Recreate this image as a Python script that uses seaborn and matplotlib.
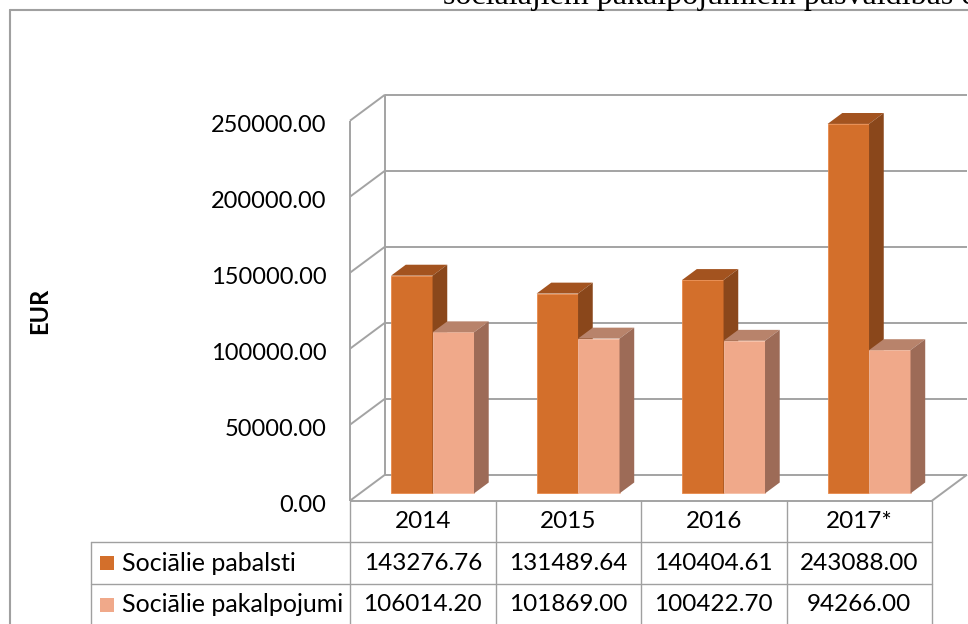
import matplotlib

matplotlib.use("Agg")
import matplotlib.pyplot as plt
import matplotlib.transforms as mtransforms
import pandas as pd
import seaborn as sns
from matplotlib.lines import Line2D
from matplotlib.patches import Polygon

years = ["2014", "2015", "2016", "2017*"]
pabalsti = [143276.76, 131489.64, 140404.61, 243088.00]
pakalpojumi = [106014.20, 101869.00, 100422.70, 94266.00]
series_names = ["Sociālie pabalsti", "Sociālie pakalpojumi"]
y_ticks = [0, 50000, 100000, 150000, 200000, 250000]
title_text = "sociālajiem pakalpojumiem pašvaldības c"

front_colors = ["#D36F2B", "#F0A98A"]
top_colors = ["#A3531F", "#B8836B"]
side_colors = ["#8A471B", "#9D6B57"]
edge_colors = ["#E8894A", "#F6BFA6"]
grid_color = "#A3A3A3"

W, H = 968, 624
sns.set_theme(style="white")
plt.rcParams["font.family"] = ["Lato", "DejaVu Sans"]


def fx(px):
    return px / W


def fy(py):
    return 1 - py / H


def main():
    fig = plt.figure(figsize=(W / 100, H / 100), dpi=100)

    # plot area: front plane of the 3d box, in pixels 350..932 x 120.7..500.7
    ax = fig.add_axes([fx(350), fy(500.7), fx(932) - fx(350), fy(120.7) - fy(500.7)])
    ymax = y_ticks[-1]
    # depth of the 3d box in data units (35px right, 26px up)
    dx = 35 / (582 / len(years))
    dy = 26 * ymax / 380
    f0, f1 = 0.28, 0.70

    df = pd.DataFrame(
        {
            "year": years * 2,
            "value": pabalsti + pakalpojumi,
            "series": [series_names[0]] * 4 + [series_names[1]] * 4,
        }
    )
    sns.barplot(
        data=df,
        x="year",
        y="value",
        hue="series",
        order=years,
        hue_order=series_names,
        palette=front_colors,
        saturation=1,
        width=0.57,
        gap=0,
        errorbar=None,
        legend=False,
        ax=ax,
    )

    # turn the flat bars into 3d columns
    bars = sorted(ax.patches, key=lambda p: p.get_x())
    shift = mtransforms.Affine2D().translate(f0 * dx, f0 * dy) + ax.transData
    for rank, bar in enumerate(bars):
        k = rank % 2
        x0, w, h = bar.get_x(), bar.get_width(), bar.get_height()
        z = 3 + rank * 0.1
        bar.set_transform(shift)
        bar.set_clip_on(False)
        bar.set_edgecolor(edge_colors[k])
        bar.set_linewidth(0.6)
        bar.set_zorder(z)
        top = [
            (x0 + f0 * dx, h + f0 * dy),
            (x0 + w + f0 * dx, h + f0 * dy),
            (x0 + w + f1 * dx, h + f1 * dy),
            (x0 + f1 * dx, h + f1 * dy),
        ]
        side = [
            (x0 + w + f0 * dx, f0 * dy),
            (x0 + w + f1 * dx, f1 * dy),
            (x0 + w + f1 * dx, h + f1 * dy),
            (x0 + w + f0 * dx, h + f0 * dy),
        ]
        ax.add_patch(Polygon(top, closed=True, fc=top_colors[k], ec="none", clip_on=False, zorder=z))
        ax.add_patch(Polygon(side, closed=True, fc=side_colors[k], ec="none", clip_on=False, zorder=z))

    # back wall, floor and gridlines
    left, right = -0.5, len(years) - 0.5
    line_kw = dict(color=grid_color, lw=1.4, clip_on=False, zorder=1, solid_capstyle="butt")
    for t in y_ticks:
        ax.plot([left, left + dx], [t, t + dy], **line_kw)
        ax.plot([left + dx, right + dx], [t + dy, t + dy], **line_kw)
    ax.plot([left, left], [0, ymax], **line_kw)
    ax.plot([left + dx, left + dx], [dy, ymax + dy], **line_kw)
    ax.plot([left, right], [0, 0], **line_kw)
    ax.plot([right, right + dx], [0, dy], **line_kw)

    ax.set_xlim(left, right)
    ax.set_ylim(0, ymax)
    sns.despine(ax=ax, left=True, bottom=True)
    ax.grid(False)
    ax.set_facecolor("none")
    ax.set_xticks([])
    ax.set_xlabel("")
    ax.set_yticks(y_ticks)
    ax.set_yticklabels([f"{t:.2f}" for t in y_ticks])
    ax.tick_params(axis="y", length=0, pad=17, labelsize=17, labelcolor="black")
    # labels sit a little below their gridline in the reference
    nudge = mtransforms.ScaledTranslation(0, -2 / 72, fig.dpi_scale_trans)
    for lab in ax.get_yticklabels():
        lab.set_transform(lab.get_transform() + nudge)
    ax.set_ylabel("EUR", fontsize=17, fontweight="bold", color="black")
    ax.yaxis.set_label_coords(-0.513, 0.5)

    # data table under the plot
    label_w = (350 - 91) / (582 / len(years))
    tax = fig.add_axes([fx(91), fy(625.7), fx(932) - fx(91), fy(500.7) - fy(625.7)])
    tax.set_xlim(left - label_w, right)
    tax.set_ylim(3, 0)
    tax.axis("off")
    tkw = dict(color="#A0A0A0", lw=1.0, clip_on=False)
    for i in range(len(years) + 1):
        tax.plot([left + i, left + i], [0, 3], **tkw)
    tax.plot([left - label_w, left - label_w], [1, 3], **tkw)
    for r in (1, 2, 3):
        tax.plot([left - label_w, right], [r, r], **tkw)

    text_kw = dict(fontsize=17.5, ha="center", va="center", color="black")
    for i, year in enumerate(years):
        tax.text(i, 0.5, year, **text_kw)
        tax.text(i, 1.5, f"{pabalsti[i]:.2f}", **text_kw)
        tax.text(i, 2.5, f"{pakalpojumi[i]:.2f}", **text_kw)
    for r, name in enumerate(series_names):
        tax.plot(left - label_w + 0.113, 1.5 + r, marker="s", ms=10.5, color=front_colors[r], mew=0)
        tax.text(left - label_w + 0.21, 1.5 + r, name, fontsize=18, ha="left", va="center", color="black")

    # chart frame and clipped document title above it
    fig.add_artist(Line2D([fx(10), 1], [fy(9.5), fy(9.5)], color="#A0A0A0", lw=1.5))
    fig.add_artist(Line2D([fx(10), fx(10)], [0, fy(9.5)], color="#A0A0A0", lw=1.5))
    fig.text(fx(443), fy(4), title_text, family="Liberation Serif", fontsize=23, va="baseline", color="black")

    fig.savefig("out.png", dpi=100)


if __name__ == "__main__":
    main()
